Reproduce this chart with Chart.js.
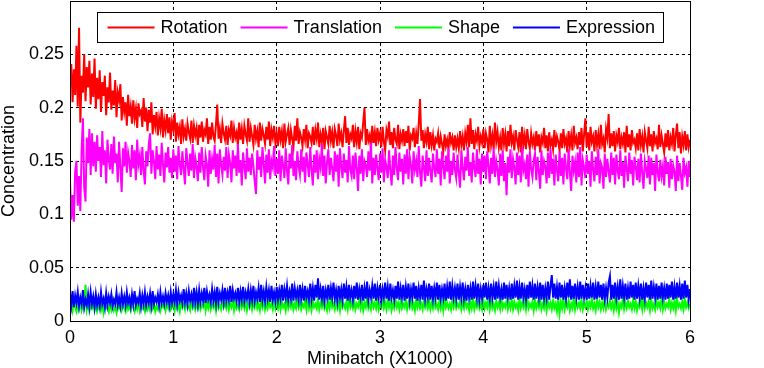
<!DOCTYPE html>
<html>

<head>
  <script src="https://cdn.jsdelivr.net/npm/chart.js@4.4.1/dist/chart.umd.min.js"></script>
  <style>
    body { margin: 0; background: #fff; }
  </style>
</head>

<body>
  <canvas id="chart" width="764" height="368"></canvas>
  <script>
    // one sample every 12.5 minibatches (x in thousands)
    var seriesNames = ['Rotation', 'Translation', 'Shape', 'Expression'];
    var seriesColors = ['#ff0000', '#ff00ff', '#00ff00', '#0000ff'];
    var xTicks = [0, 1, 2, 3, 4, 5, 6];
    var yTicks = [0, 0.05, 0.1, 0.15, 0.2, 0.25];
    var sampleStep = 0.0125;

    var rotation = [
      0.222, 0.241, 0.205, 0.236, 0.212, 0.258, 0.201, 0.275, 0.186, 0.230, 0.214, 0.250, 0.206, 0.238, 0.219, 0.244, 0.203, 0.232, 0.210, 0.246,
      0.199, 0.228, 0.208, 0.235, 0.196, 0.224, 0.211, 0.230, 0.193, 0.219, 0.205, 0.233, 0.198, 0.216, 0.202, 0.226, 0.191, 0.214, 0.207, 0.222,
      0.188, 0.210, 0.196, 0.205, 0.183, 0.212, 0.192, 0.201, 0.185, 0.207, 0.190, 0.199, 0.181, 0.204, 0.194, 0.197, 0.182, 0.209, 0.187, 0.200,
      0.178, 0.198, 0.186, 0.205, 0.175, 0.193, 0.183, 0.196, 0.174, 0.190, 0.181, 0.199, 0.172, 0.188, 0.179, 0.194, 0.176, 0.191, 0.170, 0.187,
      0.180, 0.195, 0.168, 0.186, 0.175, 0.182, 0.166, 0.189, 0.173, 0.180, 0.169, 0.185, 0.177, 0.171, 0.188, 0.167, 0.183, 0.174, 0.181, 0.165,
      0.184, 0.172, 0.187, 0.168, 0.179, 0.175, 0.190, 0.166, 0.182, 0.170, 0.186, 0.173, 0.169, 0.184, 0.203, 0.171, 0.180, 0.167, 0.185, 0.176,
      0.170, 0.183, 0.165, 0.179, 0.174, 0.188, 0.167, 0.181, 0.172, 0.177, 0.164, 0.186, 0.170, 0.180, 0.166, 0.183, 0.175, 0.169, 0.190, 0.168,
      0.181, 0.173, 0.165, 0.184, 0.171, 0.178, 0.163, 0.186, 0.169, 0.180, 0.174, 0.166, 0.182, 0.170, 0.187, 0.164, 0.179, 0.172, 0.183, 0.167,
      0.176, 0.164, 0.182, 0.170, 0.178, 0.162, 0.185, 0.168, 0.175, 0.181, 0.165, 0.179, 0.171, 0.163, 0.183, 0.169, 0.190, 0.166, 0.177, 0.172,
      0.164, 0.180, 0.170, 0.184, 0.162, 0.176, 0.173, 0.167, 0.182, 0.165, 0.179, 0.171, 0.186, 0.163, 0.175, 0.168, 0.181, 0.161, 0.178, 0.172,
      0.166, 0.183, 0.169, 0.177, 0.162, 0.180, 0.174, 0.164, 0.185, 0.170, 0.176, 0.163, 0.179, 0.192, 0.167, 0.181, 0.165, 0.175, 0.171, 0.184,
      0.163, 0.178, 0.168, 0.182, 0.161, 0.176, 0.172, 0.186, 0.200, 0.165, 0.180, 0.169, 0.174, 0.162, 0.183, 0.167, 0.177, 0.164, 0.181, 0.170,
      0.176, 0.163, 0.182, 0.168, 0.160, 0.179, 0.173, 0.187, 0.165, 0.177, 0.162, 0.181, 0.170, 0.166, 0.184, 0.161, 0.175, 0.169, 0.180, 0.164,
      0.178, 0.167, 0.183, 0.160, 0.174, 0.171, 0.181, 0.163, 0.176, 0.166, 0.185, 0.208, 0.169, 0.179, 0.162, 0.175, 0.168, 0.182, 0.161, 0.177,
      0.165, 0.174, 0.160, 0.171, 0.168, 0.176, 0.162, 0.173, 0.166, 0.159, 0.175, 0.164, 0.170, 0.161, 0.177, 0.167, 0.172, 0.160, 0.174, 0.163,
      0.171, 0.162, 0.178, 0.165, 0.173, 0.160, 0.176, 0.168, 0.184, 0.163, 0.190, 0.166, 0.179, 0.161, 0.175, 0.169, 0.182, 0.164, 0.173, 0.167,
      0.180, 0.162, 0.176, 0.170, 0.158, 0.183, 0.165, 0.174, 0.161, 0.186, 0.168, 0.177, 0.163, 0.172, 0.160, 0.181, 0.166, 0.175, 0.159, 0.178,
      0.164, 0.184, 0.167, 0.173, 0.160, 0.179, 0.170, 0.163, 0.177, 0.158, 0.182, 0.165, 0.174, 0.161, 0.180, 0.168, 0.162, 0.176, 0.166, 0.172,
      0.160, 0.178, 0.164, 0.175, 0.158, 0.172, 0.167, 0.181, 0.162, 0.174, 0.159, 0.177, 0.165, 0.170, 0.161, 0.179, 0.163, 0.173, 0.168, 0.160,
      0.176, 0.162, 0.180, 0.166, 0.171, 0.158, 0.178, 0.164, 0.174, 0.160, 0.183, 0.167, 0.172, 0.161, 0.177, 0.165, 0.181, 0.159, 0.175, 0.190,
      0.163, 0.177, 0.160, 0.182, 0.168, 0.173, 0.159, 0.179, 0.165, 0.175, 0.161, 0.184, 0.166, 0.171, 0.158, 0.180, 0.172, 0.194, 0.162, 0.176,
      0.164, 0.178, 0.159, 0.174, 0.168, 0.181, 0.161, 0.172, 0.166, 0.177, 0.158, 0.183, 0.163, 0.175, 0.160, 0.179, 0.167, 0.170, 0.162, 0.176,
      0.160, 0.180, 0.165, 0.173, 0.158, 0.177, 0.169, 0.162, 0.182, 0.164, 0.175, 0.159, 0.178, 0.167, 0.171, 0.161, 0.184, 0.163, 0.174, 0.166,
      0.158, 0.176, 0.163, 0.179, 0.160, 0.172, 0.166, 0.181, 0.159, 0.174, 0.185, 0.162, 0.177, 0.157, 0.173, 0.165, 0.178, 0.160, 0.175, 0.163,
      0.170
    ];
    var translation = [
      0.132, 0.095, 0.118, 0.093, 0.140, 0.150, 0.108, 0.136, 0.103, 0.160, 0.190, 0.125, 0.112, 0.172, 0.148, 0.180, 0.137, 0.176, 0.145, 0.168,
      0.140, 0.174, 0.150, 0.163, 0.135, 0.178, 0.146, 0.160, 0.129, 0.170, 0.152, 0.142, 0.166, 0.138, 0.173, 0.148, 0.157, 0.130, 0.168, 0.144,
      0.121, 0.162, 0.145, 0.168, 0.139, 0.158, 0.150, 0.135, 0.165, 0.143, 0.160, 0.132, 0.170, 0.147, 0.155, 0.137, 0.163, 0.141, 0.128, 0.159,
      0.145, 0.166, 0.176, 0.138, 0.160, 0.149, 0.133, 0.164, 0.142, 0.156, 0.136, 0.167, 0.147, 0.130, 0.158, 0.144, 0.163, 0.139, 0.153, 0.134,
      0.161, 0.140, 0.155, 0.133, 0.164, 0.146, 0.137, 0.159, 0.143, 0.128, 0.162, 0.148, 0.136, 0.157, 0.141, 0.166, 0.134, 0.153, 0.145, 0.131,
      0.158, 0.139, 0.163, 0.144, 0.132, 0.155, 0.147, 0.126, 0.160, 0.138, 0.152, 0.142, 0.165, 0.135, 0.157, 0.129, 0.161, 0.146, 0.137, 0.154,
      0.141, 0.163, 0.134, 0.156, 0.148, 0.130, 0.160, 0.143, 0.155, 0.136, 0.166, 0.139, 0.151, 0.127, 0.158, 0.145, 0.133, 0.162, 0.140, 0.153,
      0.137, 0.157, 0.145, 0.131, 0.119, 0.160, 0.142, 0.154, 0.135, 0.163, 0.147, 0.129, 0.156, 0.139, 0.161, 0.133, 0.150, 0.144, 0.164, 0.136,
      0.152, 0.138, 0.160, 0.131, 0.155, 0.146, 0.134, 0.162, 0.141, 0.128, 0.157, 0.143, 0.165, 0.136, 0.150, 0.132, 0.159, 0.145, 0.137, 0.161,
      0.140, 0.154, 0.130, 0.158, 0.147, 0.135, 0.163, 0.142, 0.127, 0.156, 0.139, 0.160, 0.133, 0.152, 0.144, 0.166, 0.136, 0.155, 0.129, 0.149,
      0.161, 0.137, 0.153, 0.143, 0.131, 0.159, 0.140, 0.156, 0.126, 0.162, 0.145, 0.134, 0.157, 0.139, 0.151, 0.130, 0.164, 0.142, 0.136, 0.155,
      0.133, 0.158, 0.144, 0.122, 0.155, 0.138, 0.161, 0.131, 0.150, 0.146, 0.135, 0.159, 0.141, 0.167, 0.129, 0.153, 0.137, 0.156, 0.143, 0.132,
      0.157, 0.139, 0.162, 0.130, 0.151, 0.145, 0.134, 0.160, 0.141, 0.127, 0.155, 0.137, 0.163, 0.143, 0.132, 0.158, 0.140, 0.152, 0.128, 0.156,
      0.138, 0.161, 0.133, 0.154, 0.146, 0.129, 0.159, 0.142, 0.150, 0.135, 0.164, 0.139, 0.126, 0.155, 0.144, 0.131, 0.160, 0.136, 0.153, 0.140,
      0.130, 0.157, 0.143, 0.135, 0.161, 0.138, 0.152, 0.127, 0.159, 0.145, 0.133, 0.155, 0.140, 0.162, 0.129, 0.150, 0.137, 0.158, 0.142, 0.134,
      0.156, 0.139, 0.125, 0.160, 0.144, 0.132, 0.154, 0.141, 0.163, 0.136, 0.149, 0.130, 0.158, 0.143, 0.135, 0.161, 0.138, 0.152, 0.128, 0.157,
      0.140, 0.155, 0.133, 0.159, 0.146, 0.129, 0.153, 0.138, 0.162, 0.135, 0.150, 0.142, 0.127, 0.157, 0.136, 0.160, 0.131, 0.148, 0.118, 0.154,
      0.139, 0.161, 0.134, 0.152, 0.144, 0.128, 0.158, 0.137, 0.155, 0.130, 0.163, 0.141, 0.147, 0.133, 0.156, 0.126, 0.159, 0.143, 0.135, 0.151,
      0.157, 0.132, 0.154, 0.140, 0.124, 0.160, 0.137, 0.150, 0.145, 0.129, 0.158, 0.134, 0.162, 0.138, 0.152, 0.127, 0.156, 0.142, 0.131, 0.159,
      0.136, 0.153, 0.128, 0.157, 0.143, 0.133, 0.161, 0.139, 0.122, 0.155, 0.141, 0.149, 0.130, 0.158, 0.135, 0.163, 0.127, 0.151, 0.144, 0.134,
      0.156, 0.138, 0.150, 0.126, 0.159, 0.142, 0.131, 0.154, 0.137, 0.161, 0.129, 0.148, 0.144, 0.124, 0.157, 0.135, 0.152, 0.140, 0.130, 0.158,
      0.137, 0.153, 0.128, 0.156, 0.141, 0.133, 0.160, 0.136, 0.149, 0.125, 0.155, 0.143, 0.131, 0.158, 0.138, 0.151, 0.127, 0.154, 0.145, 0.132,
      0.152, 0.130, 0.157, 0.139, 0.124, 0.150, 0.143, 0.134, 0.155, 0.128, 0.153, 0.137, 0.148, 0.122, 0.156, 0.140, 0.131, 0.151, 0.136, 0.145,
      0.127, 0.154, 0.138, 0.149, 0.125, 0.152, 0.133, 0.146, 0.140, 0.122, 0.155, 0.131, 0.148, 0.136, 0.123, 0.153, 0.139, 0.144, 0.126, 0.150,
      0.135
    ];
    var shape = [
      0.012, 0.017, 0.010, 0.019, 0.013, 0.009, 0.016, 0.011, 0.018, 0.010, 0.015, 0.012, 0.034, 0.011, 0.017, 0.009, 0.014, 0.012, 0.018, 0.010,
      0.016, 0.009, 0.013, 0.017, 0.010, 0.015, 0.008, 0.018, 0.012, 0.014, 0.009, 0.016, 0.011, 0.019, 0.010, 0.013, 0.008, 0.017, 0.012, 0.015,
      0.010, 0.016, 0.012, 0.009, 0.018, 0.011, 0.014, 0.010, 0.017, 0.013, 0.009, 0.015, 0.011, 0.018, 0.010, 0.016, 0.012, 0.014, 0.009, 0.017,
      0.011, 0.015, 0.010, 0.018, 0.012, 0.016, 0.009, 0.014, 0.011, 0.019, 0.010, 0.015, 0.013, 0.017, 0.010, 0.016, 0.012, 0.018, 0.011, 0.014,
      0.017, 0.010, 0.019, 0.012, 0.015, 0.009, 0.018, 0.013, 0.016, 0.011, 0.020, 0.012, 0.014, 0.010, 0.017, 0.013, 0.019, 0.011, 0.016, 0.012,
      0.018, 0.011, 0.015, 0.013, 0.020, 0.010, 0.017, 0.012, 0.019, 0.011, 0.016, 0.013, 0.018, 0.010, 0.021, 0.012, 0.015, 0.011, 0.019, 0.013,
      0.016, 0.012, 0.020, 0.011, 0.017, 0.013, 0.019, 0.010, 0.018, 0.012, 0.015, 0.011, 0.021, 0.013, 0.017, 0.012, 0.019, 0.010, 0.016, 0.013,
      0.019, 0.011, 0.017, 0.013, 0.020, 0.012, 0.016, 0.010, 0.018, 0.013, 0.021, 0.011, 0.017, 0.012, 0.019, 0.013, 0.016, 0.011, 0.020, 0.012,
      0.017, 0.012, 0.020, 0.011, 0.018, 0.013, 0.016, 0.010, 0.021, 0.012, 0.017, 0.013, 0.019, 0.011, 0.016, 0.012, 0.020, 0.013, 0.018, 0.011,
      0.016, 0.013, 0.019, 0.011, 0.021, 0.012, 0.017, 0.010, 0.018, 0.013, 0.016, 0.012, 0.020, 0.011, 0.017, 0.013, 0.019, 0.012, 0.016, 0.010,
      0.018, 0.012, 0.021, 0.013, 0.016, 0.011, 0.019, 0.012, 0.017, 0.010, 0.020, 0.013, 0.016, 0.012, 0.018, 0.011, 0.021, 0.013, 0.017, 0.012,
      0.019, 0.011, 0.016, 0.013, 0.020, 0.012, 0.018, 0.010, 0.017, 0.013, 0.021, 0.012, 0.016, 0.011, 0.019, 0.013, 0.017, 0.012, 0.020, 0.011,
      0.016, 0.013, 0.019, 0.012, 0.017, 0.011, 0.021, 0.013, 0.018, 0.010, 0.016, 0.012, 0.020, 0.013, 0.017, 0.011, 0.019, 0.012, 0.016, 0.013,
      0.020, 0.011, 0.017, 0.013, 0.019, 0.012, 0.016, 0.010, 0.021, 0.013, 0.018, 0.012, 0.016, 0.011, 0.020, 0.013, 0.017, 0.012, 0.019, 0.011,
      0.017, 0.012, 0.020, 0.013, 0.016, 0.011, 0.019, 0.012, 0.018, 0.010, 0.021, 0.013, 0.017, 0.012, 0.016, 0.011, 0.020, 0.013, 0.018, 0.012,
      0.016, 0.013, 0.019, 0.011, 0.017, 0.012, 0.021, 0.013, 0.016, 0.010, 0.018, 0.012, 0.020, 0.011, 0.017, 0.013, 0.019, 0.012, 0.016, 0.011,
      0.020, 0.012, 0.017, 0.013, 0.022, 0.011, 0.018, 0.012, 0.016, 0.010, 0.019, 0.013, 0.017, 0.011, 0.021, 0.012, 0.016, 0.013, 0.019, 0.011,
      0.017, 0.012, 0.020, 0.011, 0.018, 0.013, 0.016, 0.010, 0.021, 0.012, 0.017, 0.013, 0.019, 0.011, 0.022, 0.012, 0.016, 0.013, 0.018, 0.010,
      0.019, 0.012, 0.017, 0.013, 0.021, 0.011, 0.016, 0.012, 0.020, 0.010, 0.018, 0.013, 0.017, 0.011, 0.019, 0.012, 0.016, 0.009, 0.020, 0.007,
      0.018, 0.012, 0.021, 0.011, 0.017, 0.013, 0.019, 0.010, 0.016, 0.012, 0.022, 0.011, 0.018, 0.013, 0.017, 0.012, 0.020, 0.011, 0.016, 0.013,
      0.019, 0.011, 0.017, 0.013, 0.021, 0.012, 0.016, 0.010, 0.020, 0.013, 0.018, 0.011, 0.017, 0.012, 0.022, 0.011, 0.016, 0.013, 0.019, 0.012,
      0.017, 0.010, 0.020, 0.012, 0.018, 0.008, 0.016, 0.013, 0.021, 0.011, 0.017, 0.012, 0.019, 0.013, 0.016, 0.011, 0.020, 0.012, 0.018, 0.010,
      0.016, 0.013, 0.019, 0.011, 0.022, 0.012, 0.017, 0.013, 0.018, 0.010, 0.020, 0.012, 0.016, 0.011, 0.019, 0.013, 0.017, 0.012, 0.021, 0.011,
      0.018, 0.012, 0.016, 0.013, 0.020, 0.011, 0.017, 0.012, 0.019, 0.010, 0.021, 0.013, 0.016, 0.012, 0.018, 0.011, 0.020, 0.013, 0.017, 0.012,
      0.016
    ];
    var expression = [
      0.026, 0.015, 0.028, 0.013, 0.024, 0.017, 0.027, 0.014, 0.022, 0.016, 0.029, 0.013, 0.020, 0.015, 0.025, 0.014, 0.027, 0.016, 0.023, 0.013,
      0.025, 0.015, 0.022, 0.014, 0.027, 0.016, 0.021, 0.013, 0.026, 0.015, 0.023, 0.017, 0.025, 0.014, 0.020, 0.016, 0.027, 0.015, 0.022, 0.014,
      0.026, 0.016, 0.023, 0.015, 0.027, 0.017, 0.022, 0.014, 0.025, 0.016, 0.028, 0.015, 0.021, 0.017, 0.026, 0.014, 0.024, 0.016, 0.027, 0.015,
      0.023, 0.017, 0.026, 0.015, 0.028, 0.016, 0.022, 0.018, 0.025, 0.015, 0.027, 0.017, 0.023, 0.016, 0.026, 0.018, 0.024, 0.015, 0.027, 0.017,
      0.025, 0.018, 0.029, 0.016, 0.027, 0.019, 0.024, 0.017, 0.030, 0.018, 0.026, 0.016, 0.028, 0.019, 0.025, 0.017, 0.031, 0.018, 0.027, 0.016,
      0.029, 0.018, 0.026, 0.019, 0.031, 0.017, 0.028, 0.020, 0.025, 0.018, 0.030, 0.019, 0.027, 0.017, 0.032, 0.018, 0.026, 0.020, 0.029, 0.018,
      0.031, 0.019, 0.027, 0.020, 0.033, 0.018, 0.029, 0.021, 0.026, 0.019, 0.031, 0.018, 0.028, 0.020, 0.032, 0.019, 0.027, 0.021, 0.030, 0.018,
      0.029, 0.020, 0.033, 0.019, 0.027, 0.021, 0.031, 0.018, 0.034, 0.020, 0.028, 0.019, 0.032, 0.021, 0.029, 0.018, 0.033, 0.020, 0.027, 0.019,
      0.032, 0.020, 0.029, 0.021, 0.034, 0.019, 0.030, 0.022, 0.033, 0.020, 0.028, 0.021, 0.035, 0.019, 0.031, 0.022, 0.029, 0.020, 0.034, 0.021,
      0.030, 0.019, 0.033, 0.022, 0.028, 0.020, 0.035, 0.021, 0.031, 0.019, 0.034, 0.022, 0.040, 0.020, 0.030, 0.021, 0.033, 0.019, 0.029, 0.022,
      0.034, 0.020, 0.031, 0.022, 0.036, 0.021, 0.029, 0.019, 0.033, 0.022, 0.030, 0.020, 0.035, 0.021, 0.032, 0.019, 0.034, 0.022, 0.029, 0.020,
      0.033, 0.021, 0.036, 0.020, 0.030, 0.022, 0.034, 0.019, 0.031, 0.021, 0.037, 0.020, 0.029, 0.022, 0.033, 0.021, 0.035, 0.019, 0.031, 0.022,
      0.034, 0.020, 0.030, 0.022, 0.036, 0.021, 0.032, 0.019, 0.035, 0.022, 0.029, 0.020, 0.033, 0.021, 0.037, 0.020, 0.031, 0.022, 0.034, 0.019,
      0.032, 0.021, 0.035, 0.020, 0.030, 0.022, 0.036, 0.021, 0.033, 0.019, 0.031, 0.022, 0.034, 0.020, 0.038, 0.021, 0.030, 0.022, 0.035, 0.020,
      0.033, 0.021, 0.031, 0.022, 0.036, 0.020, 0.034, 0.021, 0.030, 0.022, 0.035, 0.019, 0.032, 0.021, 0.037, 0.020, 0.033, 0.022, 0.031, 0.021,
      0.035, 0.020, 0.032, 0.022, 0.036, 0.021, 0.030, 0.019, 0.034, 0.022, 0.031, 0.020, 0.037, 0.021, 0.033, 0.022, 0.035, 0.020, 0.030, 0.021,
      0.034, 0.022, 0.036, 0.020, 0.031, 0.021, 0.035, 0.022, 0.032, 0.020, 0.037, 0.021, 0.033, 0.022, 0.030, 0.020, 0.036, 0.021, 0.034, 0.022,
      0.031, 0.020, 0.035, 0.021, 0.033, 0.022, 0.038, 0.020, 0.032, 0.021, 0.036, 0.022, 0.030, 0.020, 0.034, 0.021, 0.037, 0.022, 0.033, 0.020,
      0.035, 0.021, 0.032, 0.022, 0.036, 0.020, 0.034, 0.021, 0.031, 0.022, 0.037, 0.020, 0.033, 0.043, 0.022, 0.035, 0.021, 0.032, 0.020, 0.036,
      0.022, 0.034, 0.020, 0.031, 0.021, 0.036, 0.022, 0.039, 0.020, 0.033, 0.021, 0.035, 0.022, 0.032, 0.020, 0.037, 0.021, 0.034, 0.022, 0.031,
      0.020, 0.035, 0.021, 0.033, 0.022, 0.036, 0.020, 0.032, 0.021, 0.037, 0.022, 0.034, 0.020, 0.035, 0.021, 0.031, 0.022, 0.036, 0.042, 0.020,
      0.034, 0.021, 0.036, 0.022, 0.032, 0.020, 0.039, 0.021, 0.033, 0.022, 0.035, 0.020, 0.031, 0.021, 0.037, 0.022, 0.034, 0.020, 0.036, 0.021,
      0.033, 0.022, 0.035, 0.020, 0.031, 0.021, 0.036, 0.022, 0.034, 0.020, 0.038, 0.021, 0.032, 0.022, 0.035, 0.020, 0.033, 0.021, 0.036, 0.022,
      0.031, 0.020, 0.035, 0.021, 0.034, 0.022, 0.037, 0.020, 0.032, 0.021, 0.036, 0.022, 0.033, 0.020, 0.035, 0.021, 0.038, 0.022, 0.034, 0.020,
      0.030
    ];

    var font = '"Liberation Sans", Arial, Helvetica, sans-serif';
    Chart.defaults.font.family = font;
    Chart.defaults.font.size = 18;
    Chart.defaults.color = '#000';

    function points(values) {
      return values.map(function (v, i) { return { x: i * sampleStep, y: v }; });
    }

    // legend box inside the axes plus the solid frame, MATLAB style
    var boxPlugin = {
      id: 'boxPlugin',
      afterDraw: function (chart) {
        var ctx = chart.ctx;
        var area = chart.chartArea;
        ctx.save();
        ctx.strokeStyle = '#000';
        ctx.lineWidth = 1;
        ctx.setLineDash([]);
        ctx.strokeRect(area.left + 0.5, area.top + 0.5, area.right - area.left, area.bottom - area.top);

        ctx.font = '18px ' + font;
        var lineLen = 47, gapText = 6, gapItem = 13, padL = 10, padR = 8;
        var sets = chart.data.datasets;
        var total = padL + padR;
        sets.forEach(function (ds, i) {
          total += lineLen + gapText + ctx.measureText(ds.label).width + (i ? gapItem : 0);
        });
        total = Math.round(total);
        var left = area.left + 27.5;
        var top = area.top + 11.5;
        var h = 30;
        ctx.fillStyle = '#fff';
        ctx.fillRect(left, top, total, h);
        ctx.strokeRect(left, top, total, h);

        var x = left + padL;
        var y = top + h / 2;
        ctx.textBaseline = 'middle';
        sets.forEach(function (ds, i) {
          if (i) x += gapItem;
          ctx.strokeStyle = ds.borderColor;
          ctx.lineWidth = 2;
          ctx.beginPath();
          ctx.moveTo(x, y);
          ctx.lineTo(x + lineLen, y);
          ctx.stroke();
          x += lineLen + gapText;
          ctx.fillStyle = '#000';
          ctx.fillText(ds.label, x, y + 1);
          x += ctx.measureText(ds.label).width;
        });
        ctx.restore();
      }
    };

    var allSeries = [rotation, translation, shape, expression];
    var datasets = allSeries.map(function (values, i) {
      return {
        label: seriesNames[i],
        data: points(values),
        borderColor: seriesColors[i],
        backgroundColor: seriesColors[i],
        borderWidth: 2,
        pointRadius: 0,
        tension: 0,
        order: 4 - i
      };
    });

    new Chart(document.getElementById('chart').getContext('2d'), {
      type: 'line',
      data: { datasets: datasets },
      options: {
        responsive: false,
        animation: false,
        events: [],
        layout: { padding: { top: 1, right: 74, left: 0, bottom: 0 } },
        plugins: { legend: { display: false }, tooltip: { enabled: false } },
        scales: {
          x: {
            type: 'linear',
            min: xTicks[0],
            max: xTicks[xTicks.length - 1],
            afterBuildTicks: function (scale) {
              scale.ticks = xTicks.map(function (v) { return { value: v }; });
            },
            afterFit: function (scale) { scale.height = 47; },
            ticks: { padding: 6, maxRotation: 0, callback: function (v) { return String(v); } },
            grid: { color: '#000', lineWidth: 1, drawTicks: false },
            border: { display: false, dash: [3, 3] },
            title: {
              display: true,
              text: 'Minibatch (X1000)',
              font: { size: 18, lineHeight: 1 },
              padding: 0
            }
          },
          y: {
            min: 0,
            max: 0.3,
            afterBuildTicks: function (scale) {
              scale.ticks = yTicks.concat([0.3]).map(function (v) { return { value: v }; });
            },
            afterFit: function (scale) {
              scale.width = 70;
              scale.paddingTop = 0;
              scale.paddingBottom = 0;
            },
            ticks: {
              padding: 6,
              callback: function (v) { return v > 0.26 ? '' : String(+v.toFixed(2)); }
            },
            grid: { color: '#000', lineWidth: 1, drawTicks: false },
            border: { display: false, dash: [3, 3] },
            title: {
              display: true,
              text: 'Concentration',
              font: { size: 18, lineHeight: 1 },
              padding: 0
            }
          }
        }
      },
      plugins: [boxPlugin]
    });
  </script>
</body>

</html>
